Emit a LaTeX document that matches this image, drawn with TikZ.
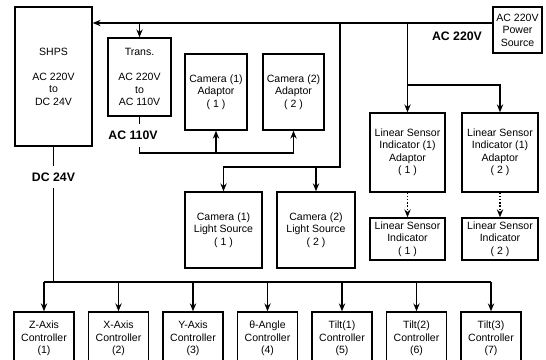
\documentclass[tikz,border=0pt]{standalone}
\usepackage{fontspec}
\setmainfont{Liberation Sans}
\usetikzlibrary{arrows.meta}
\begin{document}
\begin{tikzpicture}[
    x=0.02cm,
    y=-0.02cm,
    >={Stealth[length=4.5pt,width=3.6pt]},
    unit/.style={draw,line width=0.8pt,align=center,inner sep=0pt,
      font=\fontsize{6}{7.1}\selectfont},
    feed/.style={->,line width=0.8pt},
    wire/.style={line width=0.8pt},
    mains/.style={line width=1.3pt},
    volt/.style={font=\fontsize{7}{9}\selectfont\bfseries}
  ]
    \useasboundingbox (0,0) rectangle (546,359);
    \clip (0,0) rectangle (546,359);

    % supplies
    \node[unit,minimum width=1.54cm,minimum height=2.78cm] (shps) at (53.5,76.5)
      {SHPS\\[7.1pt]AC 220V\\to\\DC 24V};
    \node[unit,minimum width=1.26cm,minimum height=1.56cm] (trans) at (139.5,77)
      {Trans.\\[7.1pt]AC 220V\\to\\AC 110V};
    \node[unit,minimum width=0.98cm,minimum height=0.92cm] (power) at (517.5,30)
      {AC 220V\\Power\\Source};

    % cameras
    \node[unit,minimum width=1.24cm,minimum height=1.52cm] (camada) at (216,92)
      {Camera (1)\\Adaptor\\( 1 )};
    \node[unit,minimum width=1.22cm,minimum height=1.52cm] (camadb) at (293.5,92)
      {Camera (2)\\Adaptor\\( 2 )};
    \node[unit,minimum width=1.54cm,minimum height=1.52cm] (lighta) at (223.5,230)
      {Camera (1)\\Light Source\\( 1 )};
    \node[unit,minimum width=1.56cm,minimum height=1.52cm] (lightb) at (316,230)
      {Camera (2)\\Light Source\\( 2 )};

    % linear sensors
    \node[unit,minimum width=1.5cm,minimum height=1.58cm] (lsiada) at (407.5,152.5)
      {Linear Sensor\\Indicator (1)\\Adaptor\\( 1 )};
    \node[unit,minimum width=1.52cm,minimum height=1.58cm] (lsiadb) at (500,152.5)
      {Linear Sensor\\Indicator (1)\\Adaptor\\( 2 )};
    \node[unit,minimum width=1.5cm,minimum height=0.84cm] (lsia) at (407.5,239)
      {Linear Sensor\\Indicator\\( 1 )};
    \node[unit,minimum width=1.52cm,minimum height=0.84cm] (lsib) at (500,239)
      {Linear Sensor\\Indicator\\( 2 )};

    % controllers
    \foreach \i/\cx/\kind in {1/44/Z-Axis,2/118.5/X-Axis,3/193/Y-Axis,
        4/267.5/θ-Angle,5/342/Tilt(1),6/416.5/Tilt(2),7/491/Tilt(3)}
      \node[unit,minimum width=1.2cm,minimum height=1.06cm] (ctrl\i) at (\cx,338.5)
        {\kind\\Controller\\(\i)};

    % voltage labels
    \node[volt] (acmain) at (457,36) {AC 220V};
    \node[volt] (acsub) at (133,135) {AC 110V};
    \node[volt] (dcsub) at (53.5,177) {DC 24V};

    % AC 220V bus
    \coordinate (pin) at (power.west |- 0,23);
    \draw[feed,mains] (pin) -- (shps.east |- pin);
    \draw[feed] (trans.north |- pin) -- (trans.north);

    % AC 110V to camera adaptors
    \coordinate (bkl) at (139.5,147);
    \coordinate (bkr) at (293.5,153);
    \draw[wire] (trans.south) -- ++(0,7);
    \draw[wire] (bkl) |- (bkr);
    \draw[feed] (bkr) -- (camadb.south);
    \draw[feed] (camada.south |- bkr) -- (camada.south);

    % light sources
    \coordinate (lsj) at (340,23);
    \coordinate (lsk) at (340,167);
    \draw[feed] (lsj) -- (lsk) -| (lighta.north);
    \draw[feed] (lightb.north |- lsk) -- (lightb.north);

    % linear sensor adaptors
    \coordinate (lij) at (lsiada.north |- pin);
    \coordinate (lik) at (lsiada.north |- 0,85);
    \draw[feed] (lij) -- (lsiada.north);
    \draw[feed] (lik) -| (lsiadb.north);
    \draw[feed,densely dotted] (lsiada.south) -- (lsia.north);
    \draw[feed,densely dotted] (lsiadb.south) -- (lsib.north);

    % DC 24V bus
    \coordinate (dcbus) at (53.5,282);
    \draw[wire] (shps.south) -- (dcsub.north);
    \draw[wire] (dcsub.south) -- (dcbus);
    \draw[wire] (ctrl1.north |- dcbus) -- (ctrl7.north |- dcbus);
    \foreach \i in {1,...,7}
      \draw[feed] (ctrl\i.north |- dcbus) -- (ctrl\i.north);
  \end{tikzpicture}
\end{document}
